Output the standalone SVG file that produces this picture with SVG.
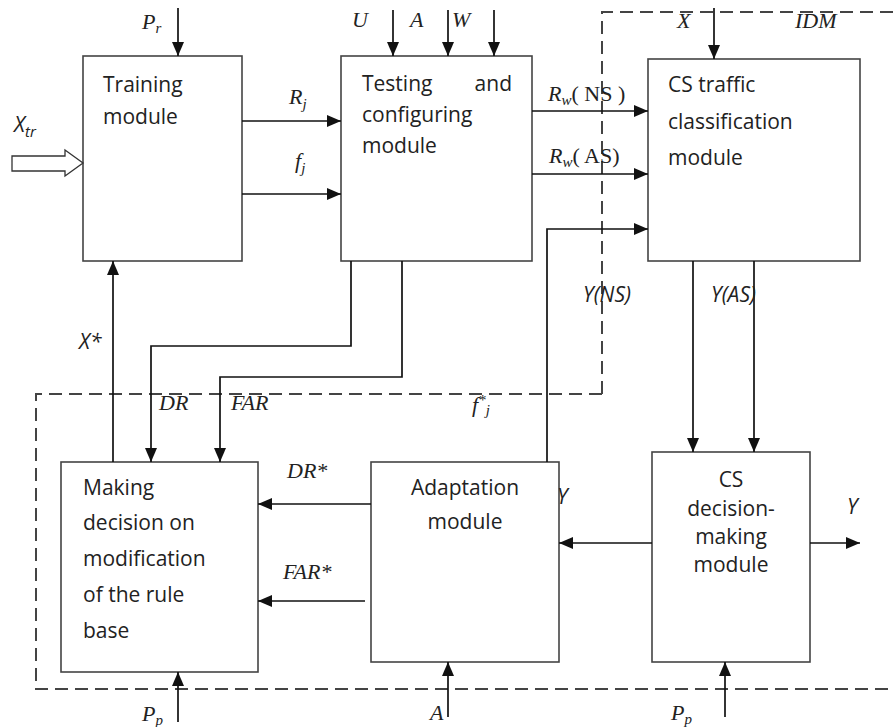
<svg xmlns="http://www.w3.org/2000/svg" width="893" height="727" viewBox="0 0 893 727">
<style>
.box{fill:#fff;stroke:#444;stroke-width:1.6}
.ln{fill:none;stroke:#111;stroke-width:1.7}
.dash{fill:none;stroke:#444;stroke-width:2;stroke-dasharray:13 7}
.t{font-family:"Open Sans","Liberation Sans",sans-serif;font-size:21px;fill:#222}
.m{font-family:"Liberation Serif",serif;font-style:italic;font-size:22px;fill:#222}
.r{font-family:"Liberation Serif",serif;font-style:normal;font-size:22px;fill:#222}
.s{font-family:"Open Sans","Liberation Sans",sans-serif;font-style:italic;font-size:21px;fill:#222}
.sub{font-size:15px}
</style>
<defs>
<marker id="ah" markerWidth="14" markerHeight="12" refX="14" refY="6" orient="auto" markerUnits="userSpaceOnUse">
<path d="M0,0 L14,6 L0,12 z" fill="#111"/>
</marker>
</defs>

<path class="dash" d="M602,394 L602,12 L893,12 M602,394 L36,394 L36,689 L893,689"/>
<text class="m" x="795" y="28">IDM</text>

<g id="training">
<rect class="box" x="83" y="56" width="159" height="205"/>
<text class="t" x="103" y="92">Training</text>
<text class="t" x="103" y="124">module</text>
</g>
<g id="testing">
<rect class="box" x="341" y="56" width="191" height="205"/>
<text class="t" x="362" y="91">Testing</text>
<text class="t" x="512" y="91" text-anchor="end">and</text>
<text class="t" x="362" y="122">configuring</text>
<text class="t" x="362" y="153">module</text>
</g>
<g id="classification">
<rect class="box" x="648" y="59" width="212" height="202"/>
<text class="t" x="668" y="92">CS traffic</text>
<text class="t" x="668" y="129">classification</text>
<text class="t" x="668" y="165">module</text>
</g>
<g id="decision">
<rect class="box" x="652" y="452" width="158" height="210"/>
<text class="t" x="731" y="487" text-anchor="middle">CS</text>
<text class="t" x="731" y="516" text-anchor="middle">decision-</text>
<text class="t" x="731" y="544" text-anchor="middle">making</text>
<text class="t" x="731" y="572" text-anchor="middle">module</text>
</g>
<g id="adaptation">
<rect class="box" x="371" y="462" width="188" height="200"/>
<text class="t" x="465" y="495" text-anchor="middle">Adaptation</text>
<text class="t" x="465" y="529" text-anchor="middle">module</text>
</g>
<g id="modification">
<rect class="box" x="61" y="462" width="197" height="210"/>
<text class="t" x="83" y="495">Making</text>
<text class="t" x="83" y="530">decision on</text>
<text class="t" x="83" y="566">modification</text>
<text class="t" x="83" y="602">of the rule</text>
<text class="t" x="83" y="638">base</text>
</g>

<g id="connectors">
<polygon points="12,156 65,156 65,150 83,163 65,176 65,171 12,171" fill="#fff" stroke="#333" stroke-width="1.3"/>
<line class="ln" x1="178" y1="8" x2="178" y2="56" marker-end="url(#ah)"/>
<line class="ln" x1="242" y1="121" x2="341" y2="121" marker-end="url(#ah)"/>
<line class="ln" x1="242" y1="194" x2="341" y2="194" marker-end="url(#ah)"/>
<line class="ln" x1="393" y1="10" x2="393" y2="56" marker-end="url(#ah)"/>
<line class="ln" x1="448" y1="10" x2="448" y2="56" marker-end="url(#ah)"/>
<line class="ln" x1="494" y1="10" x2="494" y2="56" marker-end="url(#ah)"/>
<line class="ln" x1="714" y1="8" x2="714" y2="59" marker-end="url(#ah)"/>
<line class="ln" x1="532" y1="111" x2="648" y2="111" marker-end="url(#ah)"/>
<line class="ln" x1="532" y1="174" x2="648" y2="174" marker-end="url(#ah)"/>
<polyline class="ln" points="547,462 547,229 648,229" marker-end="url(#ah)"/>
<line class="ln" x1="693" y1="261" x2="693" y2="452" marker-end="url(#ah)"/>
<line class="ln" x1="754" y1="261" x2="754" y2="452" marker-end="url(#ah)"/>
<line class="ln" x1="810" y1="543" x2="860" y2="543" marker-end="url(#ah)"/>
<line class="ln" x1="652" y1="543" x2="559" y2="543" marker-end="url(#ah)"/>
<line class="ln" x1="725" y1="717" x2="725" y2="662" marker-end="url(#ah)"/>
<line class="ln" x1="448" y1="717" x2="448" y2="662" marker-end="url(#ah)"/>
<line class="ln" x1="178" y1="722" x2="178" y2="672" marker-end="url(#ah)"/>
<line class="ln" x1="371" y1="504" x2="258" y2="504" marker-end="url(#ah)"/>
<line class="ln" x1="365" y1="601" x2="258" y2="601" marker-end="url(#ah)"/>
<line class="ln" x1="113" y1="462" x2="113" y2="261" marker-end="url(#ah)"/>
<polyline class="ln" points="351,261 351,346 151,346 151,462" marker-end="url(#ah)"/>
<polyline class="ln" points="402,261 402,377 220,377 220,462" marker-end="url(#ah)"/>
</g>

<text class="m" x="142" y="29">P<tspan class="sub" dy="4">r</tspan></text>
<text class="s" x="14" y="132">X<tspan class="sub" dy="5">tr</tspan></text>
<text class="m" x="289" y="104">R<tspan class="sub" dy="5">j</tspan></text>
<text class="m" x="295" y="168">f<tspan class="sub" dy="5">j</tspan></text>
<text class="m" x="352" y="27">U</text>
<text class="m" x="410" y="27">A</text>
<text class="m" x="452" y="27">W</text>
<text class="m" x="677" y="28">X</text>
<text class="m" x="548" y="101">R<tspan class="sub" dy="4">w</tspan><tspan class="r" dy="-4">( NS )</tspan></text>
<text class="m" x="549" y="163">R<tspan class="sub" dy="4">w</tspan><tspan class="r" dy="-4">( AS)</tspan></text>
<text class="s" x="583" y="302">Y(NS)</text>
<text class="s" x="711" y="302">Y(AS)</text>
<text class="s" x="79" y="349">X*</text>
<text class="m" x="159" y="410">DR</text>
<text class="m" x="231" y="410">FAR</text>
<text class="m" x="472" y="412">f<tspan class="sub" dy="-7">*</tspan><tspan class="sub" dy="10">j</tspan></text>
<text class="m" x="287" y="478">DR*</text>
<text class="m" x="283" y="579">FAR*</text>
<text class="s" x="557" y="504">Y</text>
<text class="s" x="847" y="514">Y</text>
<text class="m" x="142" y="721">P<tspan class="sub" dy="4">p</tspan></text>
<text class="m" x="430" y="720">A</text>
<text class="m" x="671" y="720">P<tspan class="sub" dy="4">p</tspan></text>
</svg>
